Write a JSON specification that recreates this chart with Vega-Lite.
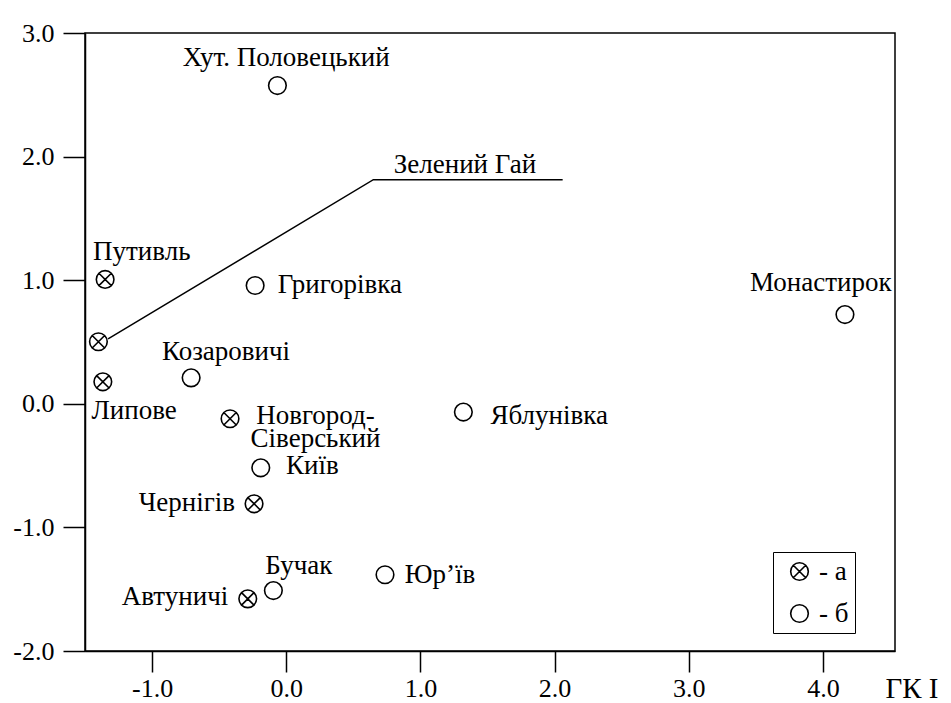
{
  "$schema": "https://vega.github.io/schema/vega-lite/v6.json",
  "width": 810,
  "height": 618,
  "autosize": {"type": "none"},
  "padding": {"left": 85, "top": 33, "right": 56, "bottom": 52},
  "background": "white",
  "config": {
    "view": {"stroke": "black", "strokeWidth": 1.5},
    "font": "Liberation Serif, Times New Roman, DejaVu Serif, serif",
    "axis": {
      "grid": false,
      "domainColor": "black",
      "domainWidth": 1.5,
      "tickColor": "black",
      "tickWidth": 1.5,
      "labelColor": "black",
      "labelFont": "Liberation Serif, Times New Roman, DejaVu Serif, serif",
      "labelFontSize": 26,
      "titleFont": "Liberation Serif, Times New Roman, DejaVu Serif, serif",
      "titleFontSize": 29,
      "titleFontWeight": "normal",
      "titleColor": "black"
    }
  },
  "datasets": {
    "sites": [
      {"name": "Хут. Половецький", "x": -0.066, "y": 2.575, "type": "б", "lx": 0.0, "ly": 2.797},
      {"name": "Путивль", "x": -1.35, "y": 1.006, "type": "а", "lx": -1.077, "ly": 1.23},
      {"name": "Григорівка", "x": -0.232, "y": 0.957, "type": "б", "lx": 0.4, "ly": 0.963},
      {"name": "Монастирок", "x": 4.164, "y": 0.722, "type": "б", "lx": 3.984, "ly": 0.979},
      {"name": "Зелений Гай", "x": -1.4, "y": 0.502, "type": "а", "lx": 1.332, "ly": 1.933},
      {"name": "Козаровичі", "x": -0.709, "y": 0.21, "type": "б", "lx": -0.449, "ly": 0.421},
      {"name": "Липове", "x": -1.367, "y": 0.178, "type": "а", "lx": -1.134, "ly": -0.061},
      {"name": "Новгород-\nСіверський", "x": -0.419, "y": -0.121, "type": "а", "lx": 0.218, "ly": -0.095},
      {"name": "Яблунівка", "x": 1.32, "y": -0.067, "type": "б", "lx": 1.96, "ly": -0.097},
      {"name": "Київ", "x": -0.19, "y": -0.518, "type": "б", "lx": 0.194, "ly": -0.504},
      {"name": "Чернігів", "x": -0.24, "y": -0.809, "type": "а", "lx": -0.74, "ly": -0.801},
      {"name": "Юр’їв", "x": 0.736, "y": -1.383, "type": "б", "lx": 1.146, "ly": -1.383},
      {"name": "Бучак", "x": -0.096, "y": -1.511, "type": "б", "lx": 0.094, "ly": -1.315},
      {"name": "Автуничі", "x": -0.287, "y": -1.578, "type": "а", "lx": -0.829, "ly": -1.561}
    ],
    "leader": [
      {"order": 1, "x": -1.328, "y": 0.525},
      {"order": 2, "x": 0.649, "y": 1.813},
      {"order": 3, "x": 2.06, "y": 1.813}
    ]
  },
  "layer": [
    {
      "data": {"name": "leader"},
      "mark": {"type": "line", "color": "black", "strokeWidth": 1.5},
      "encoding": {
        "x": {"field": "x", "type": "quantitative", "scale": {"domain": [-1.5, 4.537], "nice": false, "zero": false},
          "axis": {"values": [-1, 0, 1, 2, 3, 4], "labelExpr": "(datum.value < 0 ? '-' : '') + format(abs(datum.value), '.1f')", "tickSize": 21, "labelPadding": 3, "title": "ГК I", "titleX": 800, "titleY": 46, "titleAlign": "left", "titleBaseline": "alphabetic", "titleAnchor": "start"}},
        "y": {"field": "y", "type": "quantitative", "scale": {"domain": [-2, 3], "nice": false, "zero": false},
          "axis": {"values": [-2, -1, 0, 1, 2, 3], "labelExpr": "(datum.value < 0 ? '-' : '') + format(abs(datum.value), '.1f')", "tickSize": 22, "labelPadding": 9, "title": null}},
        "order": {"field": "order", "type": "quantitative"}
      }
    },
    {
      "data": {"name": "sites"},
      "mark": {"type": "point", "filled": false, "color": "black", "strokeWidth": 1.6, "size": 310, "opacity": 1},
      "encoding": {
        "x": {"field": "x", "type": "quantitative"},
        "y": {"field": "y", "type": "quantitative"},
        "shape": {"field": "type", "type": "nominal",
          "scale": {"domain": ["а", "б"], "range": ["M-1,0A1,1,0,1,1,1,0A1,1,0,1,1,-1,0ZM-0.7071,-0.7071L0.7071,0.7071M-0.7071,0.7071L0.7071,-0.7071", "circle"]},
          "legend": {"orient": "none", "legendX": 688, "legendY": 519, "strokeColor": "black", "padding": 6, "symbolOffset": 7, "rowPadding": 14, "labelFontSize": 27, "labelFont": "Liberation Serif, Times New Roman, DejaVu Serif, serif", "labelColor": "black", "labelOffset": 6, "labelLimit": 45, "symbolSize": 310, "symbolStrokeWidth": 1.6, "symbolStrokeColor": "black", "symbolFillColor": "transparent", "title": null, "labelExpr": "'- ' + datum.label"}}
      }
    },
    {
      "data": {"name": "sites"},
      "mark": {"type": "text", "align": "center", "baseline": "middle", "fontSize": 27, "font": "Liberation Serif, Times New Roman, DejaVu Serif, serif", "color": "black", "lineBreak": "\n", "lineHeight": 23.5},
      "encoding": {
        "x": {"field": "lx", "type": "quantitative"},
        "y": {"field": "ly", "type": "quantitative"},
        "text": {"field": "name", "type": "nominal"}
      }
    }
  ]
}
